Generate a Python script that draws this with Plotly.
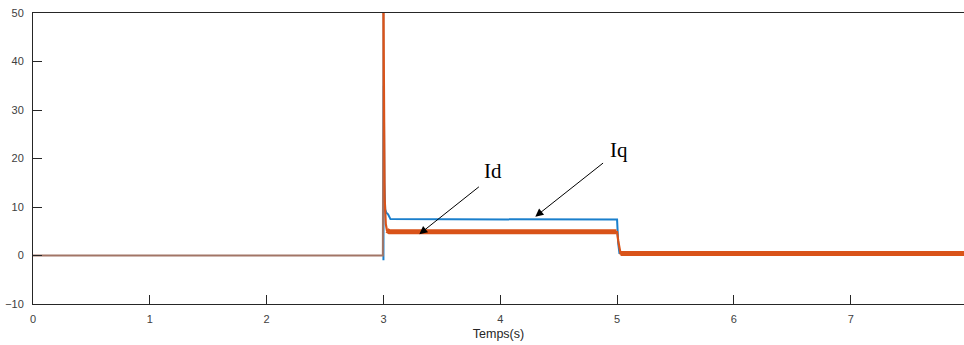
import plotly.graph_objects as go

# Time (s) and current values
t_id = [0, 2.995, 3.0, 3.005, 3.01, 3.02, 3.03, 3.05, 4.995, 5.0, 5.01, 5.02, 5.03, 7.97]
id_vals = [0, 0, 52, 30, 12, 6.5, 5.2, 4.9, 4.9, 4.8, 3.0, 1.2, 0.4, 0.4]

t_iq = [0, 2.995, 3.0, 3.003, 3.008, 3.015, 3.025, 3.04, 3.06, 4.995, 5.0, 5.01, 5.02, 7.97]
iq_vals = [0, 0, -1, 35, 15, 9.5, 8.8, 8.5, 7.5, 7.4, 7.4, 2.5, 0.5, 0.3]

x_ticks = [0, 1, 2, 3, 4, 5, 6, 7]
y_ticks = [-10, 0, 10, 20, 30, 40, 50]

BLUE = "#1A7FCC"
ORANGE = "#D95319"
split = 2  # index where the transient starts (t = 3 s)
steady = [(6, 8), (12, 13)]  # index ranges where Id has ripple (thick band)

fig = go.Figure()
fig.add_trace(go.Scatter(x=t_iq[split:], y=iq_vals[split:], mode="lines",
                         line=dict(color=BLUE, width=2), showlegend=False))
fig.add_trace(go.Scatter(x=t_id[:split + 1], y=id_vals[:split + 1], mode="lines",
                         line=dict(color="#A27566", width=2), showlegend=False))
fig.add_trace(go.Scatter(x=t_id[split:], y=id_vals[split:], mode="lines",
                         line=dict(color=ORANGE, width=2.2), showlegend=False))
xs, ys = [], []
for a, b in steady:
    xs += t_id[a:b + 1] + [None]
    ys += id_vals[a:b + 1] + [None]
fig.add_trace(go.Scatter(x=xs, y=ys, mode="lines", connectgaps=False,
                         line=dict(color=ORANGE, width=5), showlegend=False))

fig.add_annotation(x=3.307, y=4.4, ax=3.83, ay=14.4, axref="x", ayref="y",
                   xref="x", yref="y", text="", showarrow=True,
                   arrowhead=2, arrowsize=1.6, arrowwidth=1, arrowcolor="black")
fig.add_annotation(x=4.30, y=8.0, ax=4.893, ay=19.3, axref="x", ayref="y",
                   xref="x", yref="y", text="", showarrow=True,
                   arrowhead=2, arrowsize=1.6, arrowwidth=1, arrowcolor="black")
fig.add_annotation(x=3.94, y=17.5, text="Id", showarrow=False,
                   font=dict(family="Liberation Serif", size=21, color="black"))
fig.add_annotation(x=5.02, y=21.8, text="Iq", showarrow=False,
                   font=dict(family="Liberation Serif", size=21, color="black"))

axis_font = dict(family="Liberation Sans, Arial", size=11, color="#404040")
fig.update_xaxes(range=[0, 7.97], tickvals=x_ticks, ticks="inside", ticklen=9,
                 tickcolor="#262626", showline=True, linecolor="#262626",
                 linewidth=1, mirror=True, showgrid=False, zeroline=False,
                 tickfont=axis_font, ticklabelstandoff=5,
                 title=dict(text="Temps(s)", standoff=5,
                            font=dict(family="Liberation Sans, Arial", size=12.5,
                                      color="#262626")))
fig.update_yaxes(range=[-10, 50], tickvals=y_ticks, ticks="inside", ticklen=9,
                 tickcolor="#262626", showline=True, linecolor="#262626",
                 linewidth=1, mirror=False, showgrid=False, zeroline=False,
                 tickfont=axis_font, ticklabelstandoff=6)
fig.update_layout(width=964, height=345, plot_bgcolor="white",
                  paper_bgcolor="white",
                  margin=dict(l=33, r=0, t=13, b=41, autoexpand=False))
fig.write_html("out.html")
